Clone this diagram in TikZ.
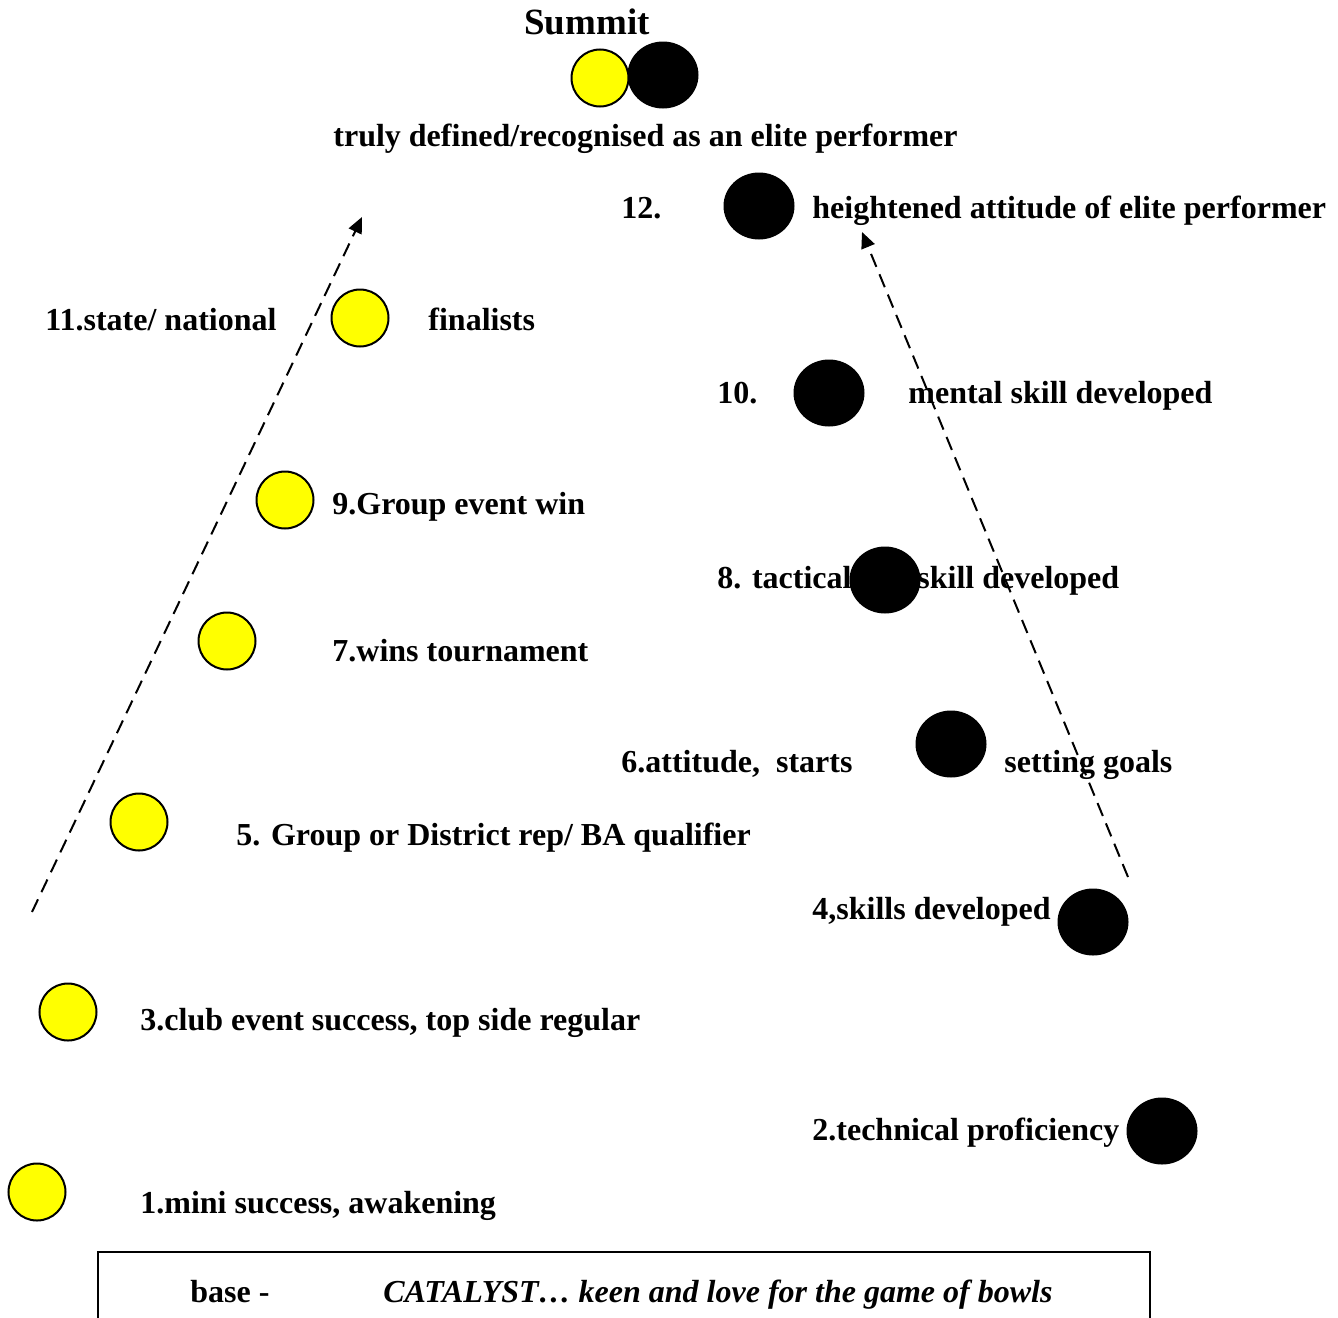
\documentclass[tikz,border=0pt]{standalone}
\usepackage{fontspec}
\setmainfont{Liberation Serif}
\usetikzlibrary{arrows.meta,shapes.geometric}
\definecolor{ballyellow}{RGB}{255,255,0}
\tikzset{
  lbl/.style={anchor=base west, inner sep=0pt, font=\fontsize{16}{19}\selectfont\bfseries},
  ybowl/.style={circle, draw=black, line width=1pt, fill=ballyellow, minimum size=28.5pt, inner sep=0pt},
  kbowl/.style={ellipse, fill=black, minimum width=35.5pt, minimum height=33.5pt, inner sep=0pt},
  climb/.style={line width=1pt, dash pattern=on 7pt off 4pt, -{Triangle[length=8pt,width=7pt]}}
}
\begin{document}
\begin{tikzpicture}[x=0.5pt,y=-0.5pt]
\useasboundingbox (0,0) rectangle (1338,1317);
\clip (0,0) rectangle (1338,1317);
% summit
\node[anchor=base, inner sep=0pt, font=\fontsize{18.5}{22}\selectfont\bfseries] (summit) at (587,34) {Summit};
\node[kbowl] (sk) at (663,75) {};
\node[ybowl] (sy) at (600,78) {};
\node[lbl] (tsum) at (333,146) {truly defined/recognised as an elite performer};
% right column (black)
\node[lbl] (n12) at (621,218) {12.};
\node[kbowl] (k12) at (759,206) {};
\node[lbl] (t12) at (812,218) {heightened attitude of elite performer};
\node[lbl] (n10) at (717,403) {10.};
\node[kbowl] (k10) at (829,393) {};
\node[lbl] (t10) at (908,403) {mental skill developed};
\node[lbl] (n8) at (717,588) {8. tactical};
\node[lbl] (t8) at (917,588) {skill developed};
\node[kbowl] (k8) at (885,580) {};
\node[lbl] (n6) at (621,772) {6.attitude,\ \ starts};
\node[kbowl] (k6) at (951,744) {};
\node[lbl] (t6) at (1004,772) {setting goals};
\node[lbl] (t4) at (812,919) {4,skills developed};
\node[kbowl] (k4) at (1093,922) {};
\node[lbl] (t2) at (812,1140) {2.technical proficiency};
\node[kbowl] (k2) at (1162,1131) {};
% left column (yellow)
\node[lbl] (n11) at (45,330) {11.state/ national};
\node[ybowl] (y11) at (360,318) {};
\node[lbl] (t11) at (428,330) {finalists};
\node[ybowl] (y9) at (285,500) {};
\node[lbl] (t9) at (332,514) {9.Group event win};
\node[ybowl] (y7) at (227,641) {};
\node[lbl] (t7) at (332,661) {7.wins tournament};
\node[ybowl] (y5) at (139,822) {};
\node[lbl] (t5) at (236,845) {5. Group or District rep/ BA qualifier};
\node[ybowl] (y3) at (68,1012) {};
\node[lbl] (t3) at (140,1030) {3.club event success, top side regular};
\node[ybowl] (y1) at (37,1192) {};
\node[lbl] (t1) at (140,1213) {1.mini success, awakening};
% arrows
\coordinate (la) at (32,912);
\coordinate (lb) at (362,217);
\coordinate (ra) at (1128,877);
\coordinate (rb) at (862,232);
\draw[climb] (la) -- (lb);
\draw[climb] (ra) -- (rb);
% base box
\node[draw=black, line width=1pt, minimum width=526pt, minimum height=60pt, anchor=north west, inner sep=0pt] (basebox) at (97,1251) {};
\node[lbl] (tbase) at (190,1302) {base -};
\node[lbl, font=\fontsize{16}{19}\selectfont\bfseries\itshape] (tcat) at (383,1302) {CATALYST\ldots\ keen and love for the game of bowls};
\end{tikzpicture}
\end{document}
